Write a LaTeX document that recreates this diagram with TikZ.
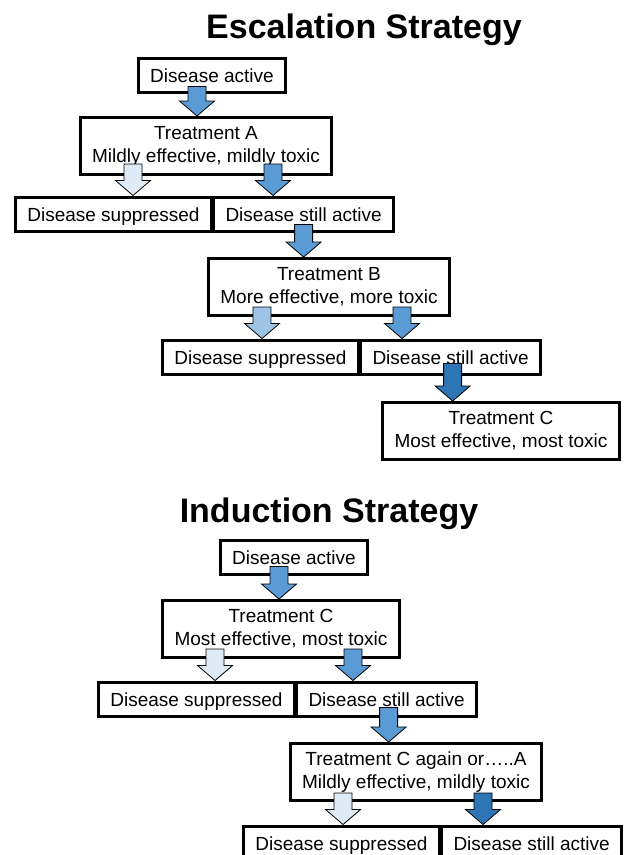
\documentclass[tikz,border=0pt]{standalone}
\usepackage{fontspec}
\setmainfont{Liberation Sans}
\usetikzlibrary{positioning,calc}
\definecolor{palefill}{HTML}{DEEBF7}
\definecolor{lightfill}{HTML}{9DC3E6}
\definecolor{midfill}{HTML}{5B9BD5}
\definecolor{darkfill}{HTML}{2E75B6}
\tikzstyle{heading} = [font=\fontsize{34}{40}\selectfont\bfseries, anchor=base, inner sep=0pt]
\tikzstyle{box} = [rectangle, draw=black, line width=3pt, fill=white, inner xsep=12pt, inner ysep=4pt, font=\fontsize{19}{23}\selectfont]
\tikzstyle{state} = [box, minimum height=34pt, text height=16pt, text depth=1pt]
\tikzstyle{treatment} = [box, align=center, minimum height=57pt, execute at begin node={\rule{0pt}{19.5pt}}]
% fat arrow: x and top from #1, tip height from #2
\newcommand{\blockarrow}[3]{%
  \filldraw[fill=#3, draw=black, line width=0.8pt] let \p1=#1, \p2=#2 in
    (\x1-9pt,\y1) -- (\x1+9pt,\y1) -- (\x1+9pt,\y2+15pt) -- (\x1+17.5pt,\y2+15pt)
    -- (\x1,\y2) -- (\x1-17.5pt,\y2+15pt) -- (\x1-9pt,\y2+15pt) -- cycle;}

\begin{document}
\begin{tikzpicture}[x=1pt, y=-1pt]
        \useasboundingbox (0,0) rectangle (624,855);
        % escalation
        \node(title1) [heading] at (364,38) {Escalation Strategy};
        \node(act0) [state] at (212,75) {Disease active};
        \node(trtA) [treatment] at (206,146) {Treatment A\\Mildly effective, mildly toxic};
        \node(supp1) [state, anchor=east] at (213,214) {Disease suppressed};
        \node(still1) [state, right=-1pt of supp1] {Disease still active};
        \node(trtB) [treatment] at (329,287) {Treatment B\\More effective, more toxic};
        \node(supp2) [state, anchor=east] at (360,357) {Disease suppressed};
        \node(still2) [state, right=-1pt of supp2] {Disease still active};
        \node(trtC) [treatment] at (501,431) {Treatment C\\Most effective, most toxic};
        % induction
        \node(title2) [heading] at (329,522) {Induction Strategy};
        \node(iact0) [state] at (294,557) {Disease active};
        \node(itrtC) [treatment] at (281,629) {Treatment C\\Most effective, most toxic};
        \node(isupp1) [state, anchor=east] at (296,699) {Disease suppressed};
        \node(istill1) [state, right=-1pt of isupp1] {Disease still active};
        \node(itrtCA) [treatment] at (416,772) {Treatment C again or…..A\\Mildly effective, mildly toxic};
        \node(isupp2) [state, anchor=east] at (441,843) {Disease suppressed};
        \node(istill2) [state, right=-1pt of isupp2] {Disease still active};
        \blockarrow{([xshift=-15pt,yshift=7pt]act0.south)}{(trtA.north)}{midfill}
        \blockarrow{([xshift=-73pt,yshift=12pt]trtA.south)}{(supp1.north)}{palefill}
        \blockarrow{([xshift=67pt,yshift=12pt]trtA.south)}{(still1.north)}{midfill}
        \blockarrow{([yshift=8pt]still1.south)}{(trtB.north)}{midfill}
        \blockarrow{([xshift=-67pt,yshift=10pt]trtB.south)}{(supp2.north)}{lightfill}
        \blockarrow{([xshift=73pt,yshift=10pt]trtB.south)}{(still2.north)}{midfill}
        \blockarrow{([xshift=2pt,yshift=12pt]still2.south)}{(trtC.north)}{darkfill}
        \blockarrow{([xshift=-15pt,yshift=9pt]iact0.south)}{(itrtC.north)}{midfill}
        \blockarrow{([xshift=-66pt,yshift=10pt]itrtC.south)}{(isupp1.north)}{palefill}
        \blockarrow{([xshift=72pt,yshift=10pt]itrtC.south)}{(istill1.north)}{midfill}
        \blockarrow{([xshift=2pt,yshift=10pt]istill1.south)}{(itrtCA.north)}{midfill}
        \blockarrow{([xshift=-73pt,yshift=9pt]itrtCA.south)}{(isupp2.north)}{palefill}
        \blockarrow{([xshift=67pt,yshift=9pt]itrtCA.south)}{(istill2.north)}{darkfill}
    \end{tikzpicture}
\end{document}
